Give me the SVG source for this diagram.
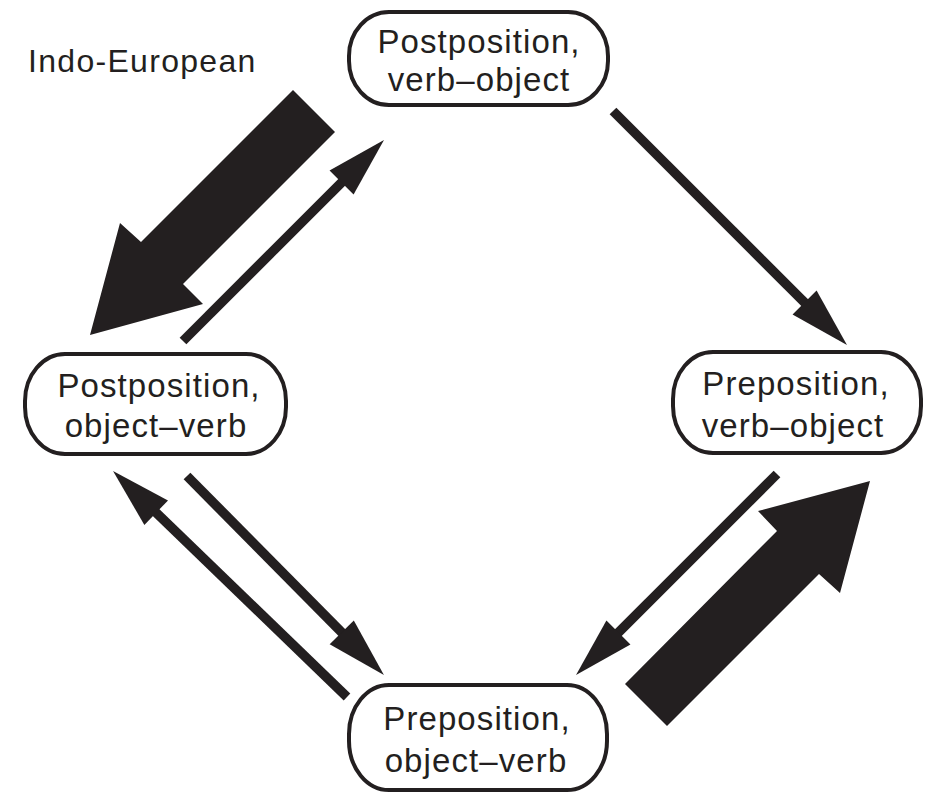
<svg xmlns="http://www.w3.org/2000/svg" width="938" height="799" viewBox="0 0 938 799">
  <defs>
    <style>
      .node rect { fill: #ffffff; stroke: #231f20; stroke-width: 4; }
      .node text, .label { font-family: "Liberation Sans", Arial, Helvetica, sans-serif; font-size: 33px; fill: #231f20; letter-spacing: 1.1px; }
      .node text { text-anchor: middle; }
      .thin { stroke: #231f20; stroke-width: 9.5; fill: none; marker-end: url(#head); }
      .bold { fill: #231f20; stroke: none; }
    </style>
    <marker id="head" markerUnits="userSpaceOnUse" markerWidth="62" markerHeight="36" viewBox="0 0 60 36" refX="20" refY="18" orient="auto">
      <path d="M0,1 L60,18 L0,35 Z" fill="#231f20"/>
    </marker>
  </defs>

  <rect width="938" height="799" fill="#ffffff"/>

  <text class="label" x="28" y="72" style="font-size:32px;letter-spacing:1.3px">Indo-European</text>

  <!-- connectors -->
  <g id="connectors">
    <!-- heavy arrow: verb-object postposition to object-verb postposition -->
    <polygon class="bold" points="293,90 335,132 183,284 203,304 90,335 120,223 141,242"/>
    <!-- heavy arrow: object-verb preposition to verb-object preposition -->
    <polygon class="bold" points="625,684 667,726 819,574 840,593 870,481 758,511 777,531"/>
    <line class="thin" x1="183" y1="341" x2="355.7" y2="168.3"/>
    <line class="thin" x1="613" y1="111" x2="818.7" y2="316.7"/>
    <line class="thin" x1="777" y1="474" x2="604.3" y2="646.7"/>
    <line class="thin" x1="347" y1="697" x2="141.8" y2="498.8"/>
    <line class="thin" x1="187" y1="476" x2="355.8" y2="646.6"/>
  </g>

  <g id="post-vo" class="node">
    <rect x="349" y="12" width="259" height="93" rx="40" ry="44"/>
    <text x="479" y="53">Postposition,</text>
    <text x="479" y="91">verb–object</text>
  </g>

  <g id="post-ov" class="node">
    <rect x="25" y="354" width="261" height="100" rx="40" ry="47"/>
    <text x="159" y="397">Postposition,</text>
    <text x="156" y="437">object–verb</text>
  </g>

  <g id="pre-vo" class="node">
    <rect x="673" y="352" width="248" height="101" rx="40" ry="47"/>
    <text x="796" y="395">Preposition,</text>
    <text x="793" y="437">verb–object</text>
  </g>

  <g id="pre-ov" class="node">
    <rect x="349" y="685" width="258" height="105" rx="40" ry="49"/>
    <text x="477" y="730">Preposition,</text>
    <text x="476" y="772">object–verb</text>
  </g>
</svg>
